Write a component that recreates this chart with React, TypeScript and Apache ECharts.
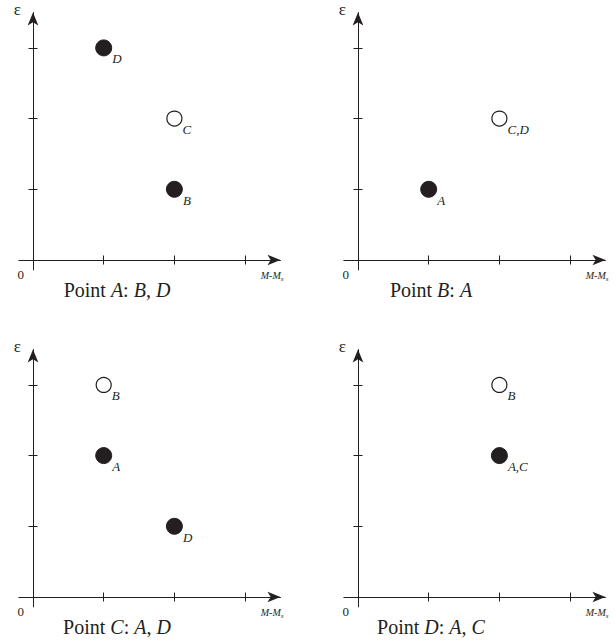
import React, { useEffect, useRef } from "react";
import * as echarts from "echarts";

// ---- data ----
const panelTitles = [
  { point: "A", others: ["B", "D"] },
  { point: "B", others: ["A"] },
  { point: "C", others: ["A", "D"] },
  { point: "D", others: ["A", "C"] },
];
// [x, y, label]
const panelAFilled: [number, number, string][] = [[1, 3, "D"], [2, 1, "B"]];
const panelAOpen: [number, number, string][] = [[2, 2, "C"]];
const panelBFilled: [number, number, string][] = [[1, 1, "A"]];
const panelBOpen: [number, number, string][] = [[2, 2, "C,D"]];
const panelCFilled: [number, number, string][] = [[1, 2, "A"], [2, 1, "D"]];
const panelCOpen: [number, number, string][] = [[1, 3, "B"]];
const panelDFilled: [number, number, string][] = [[2, 2, "A,C"]];
const panelDOpen: [number, number, string][] = [[2, 3, "B"]];
const tickValues = [1, 2, 3];
const originLabel = ["0"];
const xAxisName = ["M-M", "s"];
const yAxisName = "ε";

const filledSets = [panelAFilled, panelBFilled, panelCFilled, panelDFilled];
const openSets = [panelAOpen, panelBOpen, panelCOpen, panelDOpen];

// ---- layout ----
const X_MIN = -0.2, X_MAX = 3.5, Y_MIN = -0.14, Y_MAX = 3.5;
const UNIT = 70.7;
const ORIGINS = [
  [33, 260],
  [358, 260],
  [33, 597],
  [358, 597],
];
const TITLE_POS = [
  [117, 290],
  [431, 290],
  [117, 627],
  [431, 627],
];
const INK = "#231f20";
const SERIF = "'Liberation Serif', 'Times New Roman', serif";

function buildOption() {
  const grids: any[] = [];
  const xAxes: any[] = [];
  const yAxes: any[] = [];
  const series: any[] = [];
  const titles: any[] = [];

  ORIGINS.forEach(([ox, oy], i) => {
    grids.push({
      left: ox + X_MIN * UNIT,
      top: oy - Y_MAX * UNIT,
      width: (X_MAX - X_MIN) * UNIT,
      height: (Y_MAX - Y_MIN) * UNIT,
      containLabel: false,
    });
    const baseX = {
      type: "value",
      gridIndex: i,
      min: X_MIN,
      max: X_MAX,
      position: "bottom",
      splitLine: { show: false },
    };
    const baseY = {
      type: "value",
      gridIndex: i,
      min: Y_MIN,
      max: Y_MAX,
      position: "left",
      splitLine: { show: false },
    };
    // main x axis: line, arrow, outward ticks, "0" label, name
    xAxes.push({
      ...baseX,
      name: `{a|${xAxisName[0]}}{s|${xAxisName[1]}}`,
      nameLocation: "end",
      nameGap: 3,
      nameTextStyle: {
        align: "right",
        verticalAlign: "top",
        padding: [8, 0, 0, 0],
        rich: {
          a: { fontFamily: SERIF, fontStyle: "italic", fontSize: 10, color: INK },
          s: { fontFamily: SERIF, fontStyle: "italic", fontSize: 7, color: INK, padding: [7, 0, 0, 0] },
        },
      },
      axisLine: {
        show: true,
        onZero: true,
        symbol: ["none", "arrow"],
        symbolSize: [8, 13],
        lineStyle: { color: INK, width: 1 },
      },
      axisTick: {
        show: true,
        inside: false,
        length: 4.5,
        customValues: tickValues,
        lineStyle: { color: INK, width: 1 },
      },
      axisLabel: {
        show: true,
        customValues: [0],
        formatter: () => originLabel[0],
        align: "right",
        margin: -2,
        padding: [0, 9, 0, 0],
        fontFamily: SERIF,
        fontSize: 13,
        color: INK,
      },
    });
    // companion x axis: inward ticks only
    xAxes.push({
      ...baseX,
      axisLine: { show: false, onZero: true },
      axisTick: {
        show: true,
        inside: true,
        length: 4.5,
        customValues: tickValues,
        lineStyle: { color: INK, width: 1 },
      },
      axisLabel: { show: false },
    });
    // main y axis
    yAxes.push({
      ...baseY,
      name: yAxisName,
      nameLocation: "end",
      nameGap: 3,
      nameTextStyle: {
        align: "right",
        verticalAlign: "middle",
        padding: [0, 12, 0, 0],
        fontFamily: SERIF,
        fontSize: 17,
        color: INK,
      },
      axisLine: {
        show: true,
        onZero: true,
        symbol: ["none", "arrow"],
        symbolSize: [8, 13],
        lineStyle: { color: INK, width: 1 },
      },
      axisTick: {
        show: true,
        inside: false,
        length: 4.5,
        customValues: tickValues,
        lineStyle: { color: INK, width: 1 },
      },
      axisLabel: { show: false },
    });
    yAxes.push({
      ...baseY,
      axisLine: { show: false, onZero: true },
      axisTick: {
        show: true,
        inside: true,
        length: 4.5,
        customValues: tickValues,
        lineStyle: { color: INK, width: 1 },
      },
      axisLabel: { show: false },
    });

    const label = {
      show: true,
      position: "right",
      distance: 0,
      offset: [0, 11],
      formatter: "{b}",
      fontFamily: SERIF,
      fontStyle: "italic",
      fontSize: 13,
      color: INK,
      opacity: 1,
    };
    series.push({
      type: "scatter",
      xAxisIndex: 2 * i,
      yAxisIndex: 2 * i,
      symbol: "circle",
      symbolSize: 16,
      itemStyle: { color: INK, borderColor: INK, borderWidth: 1, opacity: 1 },
      label,
      data: filledSets[i].map(([x, y, n]) => ({ value: [x, y], name: n })),
    });
    series.push({
      type: "scatter",
      xAxisIndex: 2 * i,
      yAxisIndex: 2 * i,
      symbol: "circle",
      symbolSize: 15,
      itemStyle: { color: "#ffffff", borderColor: INK, borderWidth: 1.2, opacity: 1 },
      label,
      data: openSets[i].map(([x, y, n]) => ({ value: [x, y], name: n })),
    });

    const t = panelTitles[i];
    const text =
      `{n|Point }{i|${t.point}}{n|: }` +
      t.others.map((o) => `{i|${o}}`).join("{n|, }");
    titles.push({
      text,
      left: TITLE_POS[i][0],
      top: TITLE_POS[i][1],
      textAlign: "center",
      textVerticalAlign: "middle",
      padding: 0,
      textStyle: {
        fontWeight: "normal",
        rich: {
          n: { fontFamily: SERIF, fontSize: 20, fontWeight: "normal", color: INK },
          i: { fontFamily: SERIF, fontSize: 20, fontWeight: "normal", fontStyle: "italic", color: INK },
        },
      },
    });
  });

  return {
    animation: false,
    backgroundColor: "#ffffff",
    title: titles,
    grid: grids,
    xAxis: xAxes,
    yAxis: yAxes,
    series,
  };
}

export default function App() {
  const ref = useRef<HTMLDivElement>(null);
  useEffect(() => {
    document.body.style.margin = "0";
    if (!ref.current) return;
    const chart = echarts.init(ref.current, undefined, { renderer: "svg" });
    chart.setOption(buildOption() as any);
    return () => chart.dispose();
  }, []);
  return (
    <div
      ref={ref}
      style={{ position: "fixed", left: 0, top: 0, width: 616, height: 643, background: "#fff" }}
    />
  );
}
